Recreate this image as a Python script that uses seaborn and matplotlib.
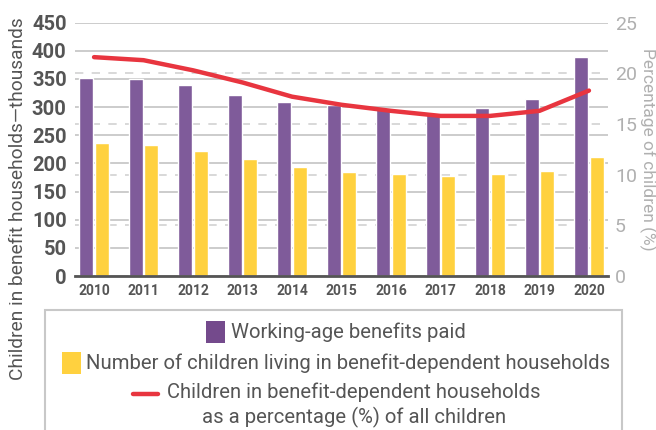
import numpy as np
import pandas as pd
import matplotlib.pyplot as plt
import seaborn as sns
from matplotlib.patches import Rectangle
from matplotlib.lines import Line2D
from matplotlib.offsetbox import DrawingArea, TextArea, HPacker, VPacker, AnchoredOffsetbox

years = ['2010', '2011', '2012', '2013', '2014', '2015', '2016', '2017', '2018', '2019', '2020']
benefits_paid = [352, 350, 339, 321, 309, 303, 296, 289, 299, 314, 389]
children_households = [236, 233, 222, 208, 194, 185, 181, 178, 181, 186, 211]
pct_children = [21.6, 21.3, 20.3, 19.1, 17.7, 16.9, 16.3, 15.8, 15.8, 16.3, 18.3]

left_ticks = list(range(0, 451, 50))
right_ticks = [0, 5, 10, 15, 20, 25]

lbl_bars1 = 'Working-age benefits paid'
lbl_bars2 = 'Number of children living in benefit-dependent households'
lbl_line = 'Children in benefit-dependent households\nas a percentage (%) of all children'

purple = '#7f5b9a'
yellow = '#ffd13f'
red = '#e8353f'
dark = '#555555'
light = '#b0b0b0'

sns.set_style('white')
plt.rcParams['font.family'] = ['Roboto', 'DejaVu Sans']

df = pd.DataFrame({'year': years * 2,
                   'value': benefits_paid + children_households,
                   'series': [lbl_bars1] * len(years) + [lbl_bars2] * len(years)})

fig = plt.figure(figsize=(6.56, 4.30), dpi=100)
ax = fig.add_axes([75/656, 1-276/430, (608-75)/656, (276-22.7)/430])

sns.barplot(data=df, x='year', y='value', hue='series', palette=[purple, yellow],
            width=0.62, gap=0.1, ax=ax, legend=False, saturation=1)
ax.set_xlim(-0.385, len(years) - 1 + 0.385)
ax.set_ylim(0, 450)
ax.set_yticks(left_ticks)
# dashed lines follow the right axis ticks (25 on the right = 450 on the left)
scale = 450 / 25
ax.set_yticks([t * scale for t in right_ticks[1:-1]], minor=True)
ax.set_axisbelow(True)
ax.grid(axis='y', which='major', color='#c4c4c4', lw=1.2)
ax.grid(axis='y', which='minor', color='#d2d2d2', lw=1.2, ls=(0, (5, 5)))
ax.tick_params(axis='y', which='both', length=0, pad=6, labelsize=14.5, labelcolor=dark)
ax.tick_params(axis='x', length=0, pad=6, labelsize=10, labelcolor=dark)
for t in ax.get_yticklabels() + ax.get_xticklabels():
    t.set_fontweight('bold')
ax.set_xlabel('')
ax.set_ylabel('')
for s in ['top', 'left', 'right']:
    ax.spines[s].set_visible(False)
ax.spines['bottom'].set_color(dark)
ax.spines['bottom'].set_linewidth(2)

ax2 = ax.twinx()
sns.lineplot(x=np.arange(len(years)), y=pct_children, color=red, lw=3.2, ax=ax2,
             solid_capstyle='round', solid_joinstyle='round')
ax2.set_ylim(0, 25)
ax2.set_yticks(right_ticks)
ax2.tick_params(axis='y', length=0, pad=5, labelsize=14, labelcolor=light)
for s in ax2.spines.values():
    s.set_visible(False)
ax2.set_ylabel('Percentage of children (%)', rotation=270, color=light, fontsize=12.5, labelpad=14)

fig.text(18/656, 1-199/430, 'Children in benefit households\u2014thousands', rotation=90,
         ha='center', va='center', fontsize=13.8, color=dark)

# legend box
fig.add_artist(Rectangle((45/656, -0.1), (622-45)/656, 0.1 + 1-310/430,
                         transform=fig.transFigure, fill=False, ec='#c8c8c8', lw=1.5))

tp = dict(fontsize=14.6, color=dark)

def square(color):
    da = DrawingArea(13.7, 15.8, 0, 0)
    da.add_artist(Rectangle((0, 0), 13.7, 15.8, fc=color, ec='none'))
    return da

line_da = DrawingArea(21, 18, 0, 0)
line_da.add_artist(Line2D([1.5, 19.5], [10, 10], color=red, lw=3.2, solid_capstyle='round'))

rows = [
    HPacker(children=[square('#744a8c'), TextArea(lbl_bars1, textprops=tp)], align='center', pad=0, sep=4),
    HPacker(children=[square(yellow), TextArea(lbl_bars2, textprops=tp)], align='center', pad=0, sep=4),
    HPacker(children=[line_da, TextArea(lbl_line, textprops=dict(tp, multialignment='center', linespacing=1.3))],
            align='top', pad=0, sep=5),
]
vp = VPacker(children=rows, align='center', pad=0, sep=6.5)
fig.add_artist(AnchoredOffsetbox(loc='upper center', child=vp, pad=0, borderpad=0, frameon=False,
                                 bbox_to_anchor=(336/656, 1-321/430),
                                 bbox_transform=fig.transFigure))

fig.savefig('out.png', dpi=100)
